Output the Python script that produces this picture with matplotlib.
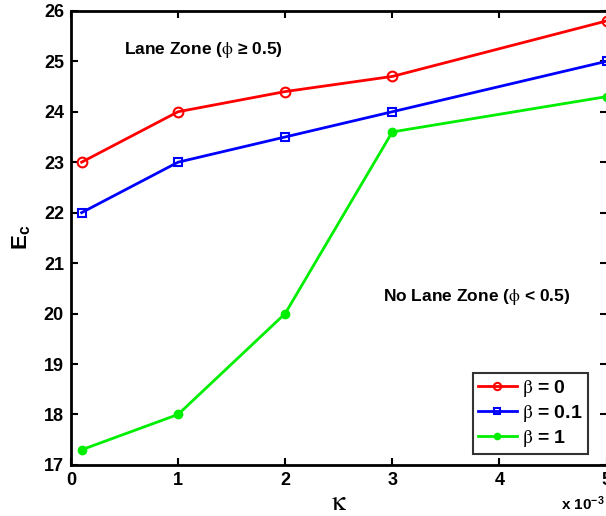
import matplotlib
matplotlib.use("Agg")
import matplotlib.pyplot as plt

plt.rcParams['font.family'] = ['Liberation Sans', 'DejaVu Sans']
plt.rcParams['mathtext.fontset'] = 'custom'
plt.rcParams['mathtext.rm'] = 'STIXGeneral'
plt.rcParams['mathtext.it'] = 'STIXGeneral:italic'
plt.rcParams['mathtext.bf'] = 'Liberation Sans:bold'

# kappa in units of 1e-3
kappa = [0.1, 1, 2, 3, 5]
ec_beta0 = [23.0, 24.0, 24.4, 24.7, 25.8]
ec_beta01 = [22.0, 23.0, 23.5, 24.0, 25.0]
ec_beta1 = [17.3, 18.0, 20.0, 23.6, 24.3]

labels = [r'$\mathrm{\beta}$ = 0', r'$\mathrm{\beta}$ = 0.1', r'$\mathrm{\beta}$ = 1']
xticks = [0, 1, 2, 3, 4, 5]
yticks = list(range(17, 27))

fig = plt.figure(figsize=(6.06, 5.16), dpi=100)
ax = fig.add_axes([0.117, 0.099, 0.884, 0.88])

ax.plot(kappa, ec_beta0, color='#ff0000', lw=2, marker='o', ms=7,
        mfc='none', mew=1.5, label=labels[0], clip_on=False)
ax.plot(kappa, ec_beta01, color='#0000ff', lw=2, marker='s', ms=6,
        mfc='none', mew=1.5, label=labels[1], clip_on=False)
ax.plot(kappa, ec_beta1, color='#00ee00', lw=2, marker='o', ms=6,
        label=labels[2], clip_on=False)

ax.set_xlim(0, 5)
ax.set_ylim(17, 26)
ax.set_xticks(xticks)
ax.set_yticks(yticks)
ax.tick_params(direction='in', length=5, width=1.5, top=True, right=True,
               labelsize=13, pad=5)
for lab in ax.get_xticklabels() + ax.get_yticklabels():
    lab.set_fontweight('bold')
for sp in ax.spines.values():
    sp.set_linewidth(2)

ax.set_ylabel(r'$\mathbf{E_c}$', fontsize=16, labelpad=8)
ax.set_xlabel(r'$\mathrm{\kappa}$', fontsize=20, labelpad=1)

ax.text(0.5, 25.22, r'Lane Zone ($\mathrm{\phi}$ ≥ 0.5)', fontsize=12.5,
        fontweight='bold', va='center')
ax.text(2.91, 20.33, r'No Lane Zone ($\mathrm{\phi}$ < 0.5)', fontsize=12.5,
        fontweight='bold', va='center')
fig.text(0.998, 0.012, r'x 10$^{\mathbf{-3}}$', fontsize=11, fontweight='bold',
         ha='right')

leg = ax.legend(loc='lower right', bbox_to_anchor=(0.965, 0.025),
                prop={'size': 14, 'weight': 'bold'},
                frameon=True, fancybox=False, edgecolor='black',
                handlelength=2.0, borderpad=0.25, labelspacing=0.2,
                handletextpad=0.3, markerscale=0.75, borderaxespad=0)
leg.get_frame().set_linewidth(1.5)

fig.savefig('out.png', dpi=100)
